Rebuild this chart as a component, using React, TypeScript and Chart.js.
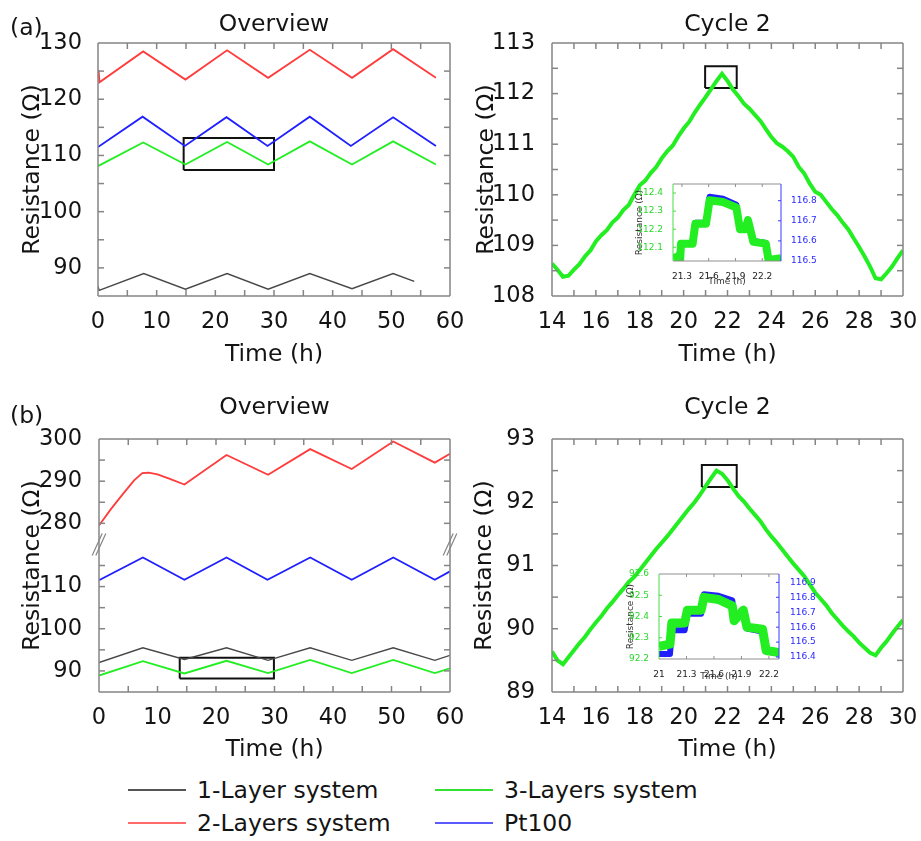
import React, { useEffect, useRef } from 'react';
import { Chart, registerables } from 'chart.js';

Chart.register(...registerables);

const FONT = '"DejaVu Sans", Verdana, sans-serif';
const C_BLACK = '#474747';
const C_RED = '#ff3b3b';
const C_GREEN = '#22ee22';
const C_BLUE = '#2020ff';
const C_FRAME = '#858585';
const C_TEXT = '#141414';

// ---------------- (a) Overview ----------------
const a1BlackT = [0, 0.2, 7.8, 14.9, 22, 29, 36.1, 43.3, 50.3, 53.9];
const a1BlackR = [86.7, 86.0, 89.0, 86.2, 89.0, 86.2, 89.0, 86.3, 89.0, 87.6];
const a1RedT = [0.1, 0.25, 7.7, 14.9, 22, 29, 36.1, 43.3, 50.3, 57.6];
const a1RedR = [125.2, 123.0, 128.5, 123.5, 128.7, 123.8, 128.8, 123.8, 128.9, 123.8];
const a1GreenT = [0, 7.7, 14.9, 22, 29, 36.1, 43.3, 50.3, 57.6];
const a1GreenR = [108.1, 112.3, 108.4, 112.4, 108.4, 112.5, 108.4, 112.5, 108.4];
const a1BlueT = [0, 7.6, 14.8, 21.9, 28.9, 36.1, 43.1, 50.3, 57.6];
const a1BlueR = [111.5, 116.9, 111.7, 116.8, 111.7, 116.9, 111.7, 116.8, 111.7];
const a1BoxT = [14.6, 30, 30, 14.6, 14.6];
const a1BoxR = [107.4, 107.4, 113.1, 113.1, 107.4];
const overviewXTicks = [0, 10, 20, 30, 40, 50, 60];
const overviewXMinor = [5, 15, 25, 35, 45, 55];
const a1YTicks = [90, 100, 110, 120, 130];
const a1YMinor = [95, 105, 115, 125];

// ---------------- (a) Cycle 2 ----------------
const a2T = [14, 14.25, 14.5, 14.75, 15, 15.25, 15.5, 15.75, 16, 16.25, 16.5, 16.75, 17, 17.25, 17.5, 17.75, 18, 18.25, 18.5, 18.75, 19, 19.25, 19.5, 19.75, 20, 20.25, 20.5, 20.75, 21, 21.25, 21.5, 21.75, 22, 22.25, 22.5, 22.75, 23, 23.25, 23.5, 23.75, 24, 24.25, 24.5, 24.75, 25, 25.25, 25.5, 25.75, 26, 26.25, 26.5, 26.75, 27, 27.25, 27.5, 27.75, 28, 28.25, 28.5, 28.75, 29, 29.25, 29.5, 29.75, 30];
const a2Green = [108.64, 108.52, 108.38, 108.40, 108.52, 108.63, 108.78, 108.90, 109.08, 109.20, 109.30, 109.45, 109.55, 109.70, 109.80, 110.00, 110.19, 110.28, 110.43, 110.55, 110.72, 110.86, 110.97, 111.15, 111.31, 111.44, 111.62, 111.78, 111.93, 112.09, 112.25, 112.39, 112.25, 112.08, 111.95, 111.80, 111.70, 111.58, 111.46, 111.30, 111.14, 111.02, 110.95, 110.86, 110.75, 110.55, 110.42, 110.22, 110.06, 110.00, 109.86, 109.72, 109.60, 109.45, 109.32, 109.14, 108.97, 108.78, 108.58, 108.35, 108.33, 108.45, 108.58, 108.75, 108.90];
const a2BoxT = [20.98, 22.42, 22.42, 20.98, 20.98];
const a2BoxR = [112.11, 112.11, 112.54, 112.54, 112.11];
const cycleXTicks = [14, 16, 18, 20, 22, 24, 26, 28, 30];
const cycleXMinor = [15, 17, 19, 21, 23, 25, 27, 29];
const a2YTicks = [108, 109, 110, 111, 112, 113];
const a2YMinor = [108.5, 109.5, 110.5, 111.5, 112.5];

// ---------------- (a) inset ----------------
const iaGreenT = [21.2, 21.26, 21.28, 21.29, 21.42, 21.45, 21.57, 21.61, 21.76, 21.91, 21.95, 22.01, 22.04, 22.1, 22.24, 22.27, 22.41];
const iaGreenR = [112.04, 112.05, 112.03, 112.12, 112.12, 112.23, 112.23, 112.36, 112.35, 112.32, 112.2, 112.2, 112.25, 112.13, 112.12, 112.03, 112.04];
const iaBlueT = [21.26, 21.29, 21.42, 21.45, 21.57, 21.61, 21.76, 21.91, 21.95, 22.01, 22.04, 22.1, 22.24, 22.27];
const iaBlueR = [116.49, 116.59, 116.59, 116.69, 116.69, 116.82, 116.81, 116.78, 116.66, 116.66, 116.7, 116.6, 116.59, 116.49];
const iaXTicks = [21.3, 21.6, 21.9, 22.2];
const iaYTicks = [112.1, 112.2, 112.3, 112.4];
const iaY2Ticks = [116.5, 116.6, 116.7, 116.8];

// ---------------- (b) Overview ----------------
const b1BlackT = [0, 7.5, 14.6, 21.8, 28.9, 36.1, 43.2, 50.3, 57.4, 60];
const b1BlackR = [92.0, 95.5, 92.7, 95.5, 92.5, 95.5, 92.5, 95.5, 92.5, 93.7];
const b1GreenT = [0, 7.5, 14.6, 21.8, 28.9, 36.1, 43.2, 50.3, 57.4, 60];
const b1GreenR = [88.9, 92.3, 89.4, 92.4, 89.5, 92.6, 89.5, 92.6, 89.5, 90.6];
const b1BlueT = [0, 7.5, 14.6, 21.8, 28.8, 36.1, 43.2, 50.3, 57.4, 60];
const b1BlueR = [111.5, 116.9, 111.6, 116.9, 111.6, 116.9, 111.6, 116.9, 111.6, 113.6];
const b1RedT = [0, 2, 4, 6, 7.4, 8.5, 10, 12, 14.6, 21.8, 28.9, 36.1, 43.2, 50.3, 57.4, 60];
const b1RedR = [279.5, 283.3, 286.8, 290.2, 291.9, 292.0, 291.6, 290.6, 289.2, 296.2, 291.5, 297.6, 292.9, 299.4, 294.4, 296.5];
const b1BoxT = [13.8, 29.9, 29.9, 13.8, 13.8];
const b1BoxR = [88.2, 88.2, 93.1, 93.1, 88.2];
const b1YTicks = [90, 100, 110, 280, 290, 300];
const b1YMinor = [95, 105, 115, 285, 295];
const b1BreakOffset = 155; // upper segment shift of the broken axis
const b1BreakAt = 120;

// ---------------- (b) Cycle 2 ----------------
const b2T = a2T;
const b2Green = [89.64, 89.50, 89.44, 89.55, 89.66, 89.77, 89.87, 89.99, 90.10, 90.20, 90.32, 90.42, 90.53, 90.63, 90.74, 90.82, 90.93, 91.04, 91.15, 91.26, 91.36, 91.46, 91.57, 91.68, 91.79, 91.90, 92.00, 92.12, 92.25, 92.38, 92.50, 92.45, 92.35, 92.22, 92.10, 92.01, 91.90, 91.80, 91.70, 91.57, 91.46, 91.36, 91.25, 91.14, 91.03, 90.93, 90.83, 90.70, 90.57, 90.47, 90.37, 90.25, 90.15, 90.05, 89.96, 89.88, 89.78, 89.70, 89.62, 89.58, 89.70, 89.80, 89.92, 90.03, 90.14];
const b2BoxT = [20.83, 22.42, 22.42, 20.83, 20.83];
const b2BoxR = [92.24, 92.24, 92.59, 92.59, 92.24];
const b2YTicks = [89, 90, 91, 92, 93];
const b2YMinor = [89.5, 90.5, 91.5, 92.5];

// ---------------- (b) inset ----------------
const ibT = [21.0, 21.12, 21.14, 21.28, 21.31, 21.46, 21.49, 21.65, 21.8, 21.82, 21.88, 21.92, 21.96, 22.13, 22.17, 22.32];
const ibGreenR = [92.26, 92.27, 92.37, 92.37, 92.43, 92.43, 92.49, 92.48, 92.45, 92.38, 92.41, 92.43, 92.35, 92.34, 92.24, 92.23];
const ibBlueR = [116.42, 116.42, 116.58, 116.58, 116.69, 116.69, 116.82, 116.81, 116.78, 116.67, 116.68, 116.7, 116.59, 116.57, 116.44, 116.42];
const ibXTicks = [21, 21.3, 21.6, 21.9, 22.2];
const ibYTicks = [92.2, 92.3, 92.4, 92.5, 92.6];
const ibY2Ticks = [116.4, 116.5, 116.6, 116.7, 116.8, 116.9];

const legendItems = [
  { label: '1-Layer system', color: '#555555', col: 0, row: 0 },
  { label: '2-Layers system', color: '#ff6a6a', col: 0, row: 1 },
  { label: '3-Layers system', color: '#33e033', col: 1, row: 0 },
  { label: 'Pt100', color: '#5a5aff', col: 1, row: 1 },
];

// ---------------- helpers ----------------
const zip = (t: number[], r: number[], f: (v: number) => number = (v) => v) =>
  t.map((x, i) => ({ x, y: f(r[i]) }));
const toB1 = (v: number) => (v > 200 ? v - b1BreakOffset : v);
const fmt = (v: number) => String(Math.round(v * 1000) / 1000);

function line(data: any[], color: string, width: number, extra: any = {}) {
  return {
    data,
    borderColor: color,
    backgroundColor: color,
    borderWidth: width,
    pointRadius: 0,
    showLine: true,
    fill: false,
    tension: 0,
    ...extra,
  };
}

type FrameOpts = {
  xTicks: number[];
  yTicks: number[];
  y2Ticks?: number[];
  len: number;
  lw: number;
  color: string;
  leftColor: string;
  rightColor: string;
  breakAt?: number;
};

function makeFrame(o: FrameOpts) {
  return {
    id: 'frameBox',
    afterDraw(chart: any) {
      const ctx = chart.ctx as CanvasRenderingContext2D;
      const a = chart.chartArea;
      const xs = chart.scales.x;
      const yl = chart.scales.y;
      const yr = chart.scales.y2;
      const L = o.len;
      ctx.save();
      ctx.setLineDash([]);
      ctx.lineCap = 'butt';
      const seg = (x1: number, y1: number, x2: number, y2: number, c: string, w: number) => {
        ctx.strokeStyle = c;
        ctx.lineWidth = w;
        ctx.beginPath();
        ctx.moveTo(x1, y1);
        ctx.lineTo(x2, y2);
        ctx.stroke();
      };
      for (const v of o.xTicks) {
        const p = xs.getPixelForValue(v);
        if (p < a.left + 1 || p > a.right - 1) continue;
        seg(p, a.bottom, p, a.bottom - L, o.color, o.lw);
        seg(p, a.top, p, a.top + L, o.color, o.lw);
      }
      for (const v of o.yTicks) {
        const p = yl.getPixelForValue(v);
        if (p < a.top + 1 || p > a.bottom - 1) continue;
        seg(a.left, p, a.left + L, p, o.leftColor, o.lw);
        if (!o.y2Ticks) seg(a.right, p, a.right - L, p, o.rightColor, o.lw);
      }
      if (yr && o.y2Ticks) {
        for (const v of o.y2Ticks) {
          const p = yr.getPixelForValue(v);
          if (p < a.top + 1 || p > a.bottom - 1) continue;
          seg(a.right, p, a.right - L, p, o.rightColor, o.lw);
        }
      }
      seg(a.left, a.top, a.right, a.top, o.color, o.lw);
      seg(a.left, a.bottom, a.right, a.bottom, o.color, o.lw);
      seg(a.left, a.top, a.left, a.bottom, o.leftColor, o.lw);
      seg(a.right, a.top, a.right, a.bottom, o.rightColor, o.lw);
      if (o.breakAt !== undefined) {
        const p = yl.getPixelForValue(o.breakAt);
        for (const x of [a.left, a.right]) {
          for (const d of [-1.8, 1.8]) seg(x - 5 + d, p + 11, x + 5 + d, p - 11, o.color, 1.2);
        }
      }
      ctx.restore();
    },
  };
}

function xAxis(p: any) {
  return {
    type: 'linear',
    position: 'bottom',
    min: p.min,
    max: p.max,
    grid: { display: false },
    border: { display: false },
    afterBuildTicks: (s: any) => {
      s.ticks = p.ticks.map((v: number) => ({ value: v }));
    },
    afterFit: (s: any) => {
      s.height = p.height;
      s.paddingLeft = 0;
      s.paddingRight = 0;
    },
    ticks: {
      autoSkip: false,
      maxRotation: 0,
      padding: p.pad,
      color: p.color || C_TEXT,
      font: { family: FONT, size: p.size },
      callback: (v: number) => fmt(v),
    },
    title: {
      display: true,
      text: 'Time (h)',
      color: p.titleColor || C_TEXT,
      font: { family: FONT, size: p.titleSize },
      padding: { top: 0, bottom: p.titleBottom },
    },
  };
}

function yAxis(p: any) {
  return {
    type: 'linear',
    position: p.position || 'left',
    min: p.min,
    max: p.max,
    grid: { display: false },
    border: { display: false },
    afterBuildTicks: (s: any) => {
      s.ticks = p.ticks.map((v: number) => ({ value: v }));
    },
    afterFit: (s: any) => {
      s.width = p.width;
      s.paddingTop = 0;
      s.paddingBottom = 0;
    },
    ticks: {
      autoSkip: false,
      padding: p.pad,
      color: p.color || C_TEXT,
      font: { family: FONT, size: p.size },
      callback: p.callback || ((v: number) => fmt(v)),
    },
    title: {
      display: !!p.title,
      text: p.title || '',
      color: p.titleColor || C_TEXT,
      font: { family: FONT, size: p.titleSize },
      padding: { top: p.titleTop || 0, bottom: 0 },
    },
  };
}

function baseOptions(extra: any) {
  return {
    responsive: false,
    animation: false,
    events: [],
    plugins: {
      legend: { display: false },
      tooltip: { enabled: false },
      ...extra.plugins,
    },
    layout: { padding: extra.padding },
    scales: extra.scales,
  };
}

function mainTitle(text: string, top: number, bottom: number) {
  return {
    display: true,
    fullSize: false,
    text,
    color: C_TEXT,
    font: { family: FONT, size: 23.5, weight: 'normal', lineHeight: 1.2 },
    padding: { top, bottom },
  };
}

const mainFrame = (xTicks: number[], yTicks: number[], breakAt?: number) =>
  makeFrame({ xTicks, yTicks, len: 6, lw: 1.5, color: C_FRAME, leftColor: C_FRAME, rightColor: C_FRAME, breakAt });

// ---------------- chart configs ----------------
const cfgA1 = () => ({
  type: 'scatter',
  data: {
    datasets: [
      line(zip(a1BlackT, a1BlackR), C_BLACK, 1.4),
      line(zip(a1RedT, a1RedR), C_RED, 1.8),
      line(zip(a1GreenT, a1GreenR), C_GREEN, 1.8),
      line(zip(a1BlueT, a1BlueR), C_BLUE, 1.8),
      line(zip(a1BoxT, a1BoxR), '#111111', 2),
    ],
  },
  options: baseOptions({
    padding: { left: 0, right: 20, top: 0, bottom: 0 },
    plugins: { title: mainTitle('Overview', 10.9, 3.9) },
    scales: {
      x: xAxis({ min: 0, max: 60, ticks: overviewXTicks, height: 89, pad: 5, size: 22.5, titleSize: 23.5, titleBottom: 15.9 }),
      y: yAxis({ min: 85, max: 130, ticks: a1YTicks, width: 98, pad: 8, size: 22.5, title: 'Resistance (Ω)', titleSize: 23.5, titleTop: 18.9 }),
    },
  }),
  plugins: [mainFrame([...overviewXTicks, ...overviewXMinor], [...a1YTicks, ...a1YMinor])],
});

const cfgA2 = () => ({
  type: 'scatter',
  data: {
    datasets: [
      line(zip(a2T, a2Green), C_GREEN, 4),
      line(zip(a2BoxT, a2BoxR), '#111111', 2),
    ],
  },
  options: baseOptions({
    padding: { left: 0, right: 18, top: 0, bottom: 0 },
    plugins: { title: mainTitle('Cycle 2', 10.9, 3.9) },
    scales: {
      x: xAxis({ min: 14, max: 30, ticks: cycleXTicks, height: 89, pad: 5, size: 22.5, titleSize: 23.5, titleBottom: 15.9 }),
      y: yAxis({ min: 108, max: 113, ticks: a2YTicks, width: 92, pad: 9, size: 22.5, title: 'Resistance (Ω)', titleSize: 23.5, titleTop: 12.9 }),
    },
  }),
  plugins: [mainFrame([...cycleXTicks, ...cycleXMinor], [...a2YTicks, ...a2YMinor])],
});

const cfgB1 = () => ({
  type: 'scatter',
  data: {
    datasets: [
      line(zip(b1BlackT, b1BlackR), C_BLACK, 1.4),
      line(zip(b1RedT, b1RedR, toB1), C_RED, 1.8),
      line(zip(b1GreenT, b1GreenR), C_GREEN, 1.8),
      line(zip(b1BlueT, b1BlueR), C_BLUE, 1.8),
      line(zip(b1BoxT, b1BoxR), '#111111', 2),
    ],
  },
  options: baseOptions({
    padding: { left: 0, right: 20, top: 0, bottom: 0 },
    plugins: { title: mainTitle('Overview', 8.9, 16.9) },
    scales: {
      x: xAxis({ min: 0, max: 60, ticks: overviewXTicks, height: 78, pad: 5, size: 22.5, titleSize: 23.5, titleBottom: 5.9 }),
      y: yAxis({
        min: 85, max: 300 - b1BreakOffset, ticks: b1YTicks.map(toB1), width: 99, pad: 9, size: 22.5,
        title: 'Resistance (Ω)', titleSize: 23.5, titleTop: 18.9,
        callback: (v: number) => String(v > b1BreakAt ? v + b1BreakOffset : v),
      }),
    },
  }),
  plugins: [mainFrame([...overviewXTicks, ...overviewXMinor], [...b1YTicks, ...b1YMinor].map(toB1), b1BreakAt)],
});

const cfgB2 = () => ({
  type: 'scatter',
  data: {
    datasets: [
      line(zip(b2T, b2Green), C_GREEN, 4),
      line(zip(b2BoxT, b2BoxR), '#111111', 2),
    ],
  },
  options: baseOptions({
    padding: { left: 0, right: 18, top: 0, bottom: 0 },
    plugins: { title: mainTitle('Cycle 2', 8.9, 16.9) },
    scales: {
      x: xAxis({ min: 14, max: 30, ticks: cycleXTicks, height: 78, pad: 5, size: 22.5, titleSize: 23.5, titleBottom: 5.9 }),
      y: yAxis({ min: 89, max: 93, ticks: b2YTicks, width: 92, pad: 9, size: 22.5, title: 'Resistance (Ω)', titleSize: 23.5, titleTop: 10.9 }),
    },
  }),
  plugins: [mainFrame([...cycleXTicks, ...cycleXMinor], [...b2YTicks, ...b2YMinor])],
});

const INSET_GREEN_TXT = '#2ad82a';
const INSET_BLUE_TXT = '#2a2aff';

const insetFrame = (xTicks: number[], yTicks: number[], y2Ticks: number[]) =>
  makeFrame({ xTicks, yTicks, y2Ticks, len: 3, lw: 1, color: '#8f8f8f', leftColor: '#44dd44', rightColor: '#3a3aff' });

const cfgIA = () => ({
  type: 'scatter',
  data: {
    datasets: [
      line(zip(iaGreenT, iaGreenR), C_GREEN, 8, { yAxisID: 'y', clip: 0, borderJoinStyle: 'round' }),
      line(zip(iaBlueT, iaBlueR), C_BLUE, 6, { yAxisID: 'y2', clip: 0, borderJoinStyle: 'round' }),
    ],
  },
  options: baseOptions({
    padding: { left: 0, right: 0, top: 9, bottom: 0 },
    plugins: {},
    scales: {
      x: xAxis({ min: 21.2, max: 22.41, ticks: iaXTicks, height: 29, pad: 2, size: 9, titleSize: 9, titleBottom: 2.6, color: '#222', titleColor: '#333' }),
      y: yAxis({ min: 112.024, max: 112.45, ticks: iaYTicks, width: 53, pad: 2, size: 9, color: INSET_GREEN_TXT, title: 'Resistance (Ω)', titleSize: 9, titleTop: 14.6, titleColor: '#333' }),
      y2: yAxis({ position: 'right', min: 116.5, max: 116.883, ticks: iaY2Ticks, width: 59, pad: 2, size: 9, color: INSET_BLUE_TXT }),
    },
  }),
  plugins: [insetFrame(iaXTicks, iaYTicks, iaY2Ticks)],
});

const cfgIB = () => ({
  type: 'scatter',
  data: {
    datasets: [
      line(zip(ibT, ibGreenR), C_GREEN, 9, { yAxisID: 'y', clip: 0, borderJoinStyle: 'round' }),
      line(zip(ibT, ibBlueR), C_BLUE, 6, { yAxisID: 'y2', clip: 0, borderJoinStyle: 'round' }),
    ],
  },
  options: baseOptions({
    padding: { left: 0, right: 0, top: 9, bottom: 0 },
    plugins: {},
    scales: {
      x: xAxis({ min: 21, max: 22.31, ticks: ibXTicks, height: 31, pad: 2, size: 9, titleSize: 9, titleBottom: 7.6, color: '#222', titleColor: '#333' }),
      y: yAxis({ min: 92.2, max: 92.6, ticks: ibYTicks, width: 59, pad: 2, size: 9, color: INSET_GREEN_TXT, title: 'Resistance (Ω)', titleSize: 9, titleTop: 25, titleColor: '#333' }),
      y2: yAxis({ position: 'right', min: 116.387, max: 116.956, ticks: ibY2Ticks, width: 61, pad: 3, size: 9, color: INSET_BLUE_TXT }),
    },
  }),
  plugins: [insetFrame(ibXTicks, ibYTicks, ibY2Ticks)],
});

function ChartCanvas(props: { left: number; top: number; width: number; height: number; config: () => any }) {
  const ref = useRef<HTMLCanvasElement | null>(null);
  useEffect(() => {
    const chart = new Chart(ref.current as HTMLCanvasElement, props.config());
    return () => chart.destroy();
  }, []);
  return (
    <canvas
      ref={ref}
      width={props.width}
      height={props.height}
      style={{ position: 'absolute', left: props.left, top: props.top, width: props.width, height: props.height }}
    />
  );
}

export default function App() {
  const legendColX = [128, 435];
  const legendRowY = [790, 823];
  return (
    <div style={{ position: 'absolute', left: 0, top: 0, width: 921, height: 841, background: '#ffffff', overflow: 'hidden', fontFamily: FONT }}>
      <ChartCanvas left={0} top={0} width={470} height={385} config={cfgA1} />
      <ChartCanvas left={460} top={0} width={461} height={385} config={cfgA2} />
      <ChartCanvas left={0} top={385} width={470} height={385} config={cfgB1} />
      <ChartCanvas left={460} top={385} width={461} height={385} config={cfgB2} />
      <ChartCanvas left={620} top={175} width={220} height={115} config={cfgIA} />
      <ChartCanvas left={600} top={565} width={240} height={125} config={cfgIB} />
      <div style={{ position: 'absolute', left: 10, top: 12, fontSize: 23.5, lineHeight: '30px', color: C_TEXT }}>(a)</div>
      <div style={{ position: 'absolute', left: 10, top: 400, fontSize: 23.5, lineHeight: '30px', color: C_TEXT }}>(b)</div>
      {legendItems.map((it) => (
        <div
          key={it.label}
          style={{ position: 'absolute', left: legendColX[it.col], top: legendRowY[it.row] - 15, height: 30, display: 'flex', alignItems: 'center' }}
        >
          <div style={{ width: 58, height: 1.6, background: it.color }} />
          <span style={{ marginLeft: 11, fontSize: 23.5, lineHeight: '30px', color: C_TEXT, whiteSpace: 'nowrap' }}>{it.label}</span>
        </div>
      ))}
    </div>
  );
}
